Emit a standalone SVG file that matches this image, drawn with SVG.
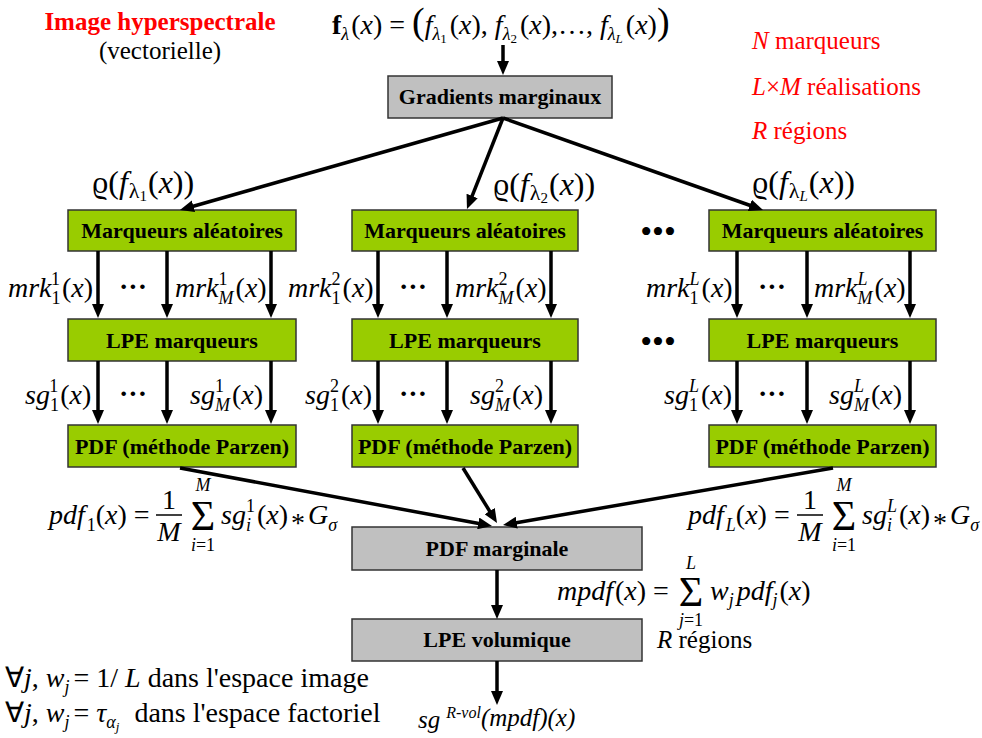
<svg xmlns="http://www.w3.org/2000/svg" width="982" height="738" viewBox="0 0 982 738" font-family="'Liberation Serif', 'Times New Roman', Times, serif">
<style>
text{font-family:'Liberation Serif','Times New Roman',Times,serif;fill:#000}
.red{fill:#ff0000}
.lbl{font-weight:bold;font-size:22px;text-anchor:middle}
.m{font-style:italic;font-size:28px}
.n{font-style:normal}
.s{font-size:18px}
.ss{font-size:13px}
.big{font-size:38px}
.g{fill:#99cc00;stroke:#333;stroke-width:1.5}
.gr{fill:#c0c0c0;stroke:#333;stroke-width:1.5}
.dots{font-size:28px;font-weight:bold;text-anchor:middle}
.bul{font-size:34px;text-anchor:middle}
.sig{font-size:42px;text-anchor:middle}
.c line{stroke:#000;stroke-width:3.5;marker-end:url(#ah)}
</style>
<defs>
<marker id="ah" viewBox="0 0 14 12" markerWidth="14" markerHeight="12" refX="2" refY="6" orient="auto" markerUnits="userSpaceOnUse">
<path d="M0,0 L14,6 L0,12 z" fill="#000"/>
</marker>
</defs>
<rect width="982" height="738" fill="#fff"/>

<g id="title">
<text class="red" x="160" y="30" style="font-weight:bold;font-size:25px;text-anchor:middle">Image hyperspectrale</text>
<text x="160" y="59" style="font-size:25px;text-anchor:middle">(vectorielle)</text>
</g>

<g id="input">
<text class="m" x="332" y="34"><tspan class="n" font-weight="bold">f</tspan><tspan class="s" dy="6">λ</tspan><tspan class="n" dx="2" dy="-6">(</tspan>x<tspan class="n">) = </tspan><tspan class="n big">(</tspan>f<tspan class="s" dy="6">λ</tspan><tspan class="ss n" dy="3">1</tspan><tspan class="n" dx="3" dy="-9">(</tspan>x<tspan class="n">), </tspan>f<tspan class="s" dy="6">λ</tspan><tspan class="ss n" dy="3">2</tspan><tspan class="n" dx="3" dy="-9">(</tspan>x<tspan class="n">),…, </tspan>f<tspan class="s" dy="6">λ</tspan><tspan class="ss" dy="3">L</tspan><tspan class="n" dx="3" dy="-9">(</tspan>x<tspan class="n">)</tspan><tspan class="n big">)</tspan></text>
</g>

<g id="notes">
<text class="red" x="752" y="49" style="font-size:25px"><tspan font-style="italic">N</tspan> marqueurs</text>
<text class="red" x="752" y="95" style="font-size:25px"><tspan font-style="italic">L</tspan>×<tspan font-style="italic">M</tspan> réalisations</text>
<text class="red" x="752" y="139" style="font-size:25px"><tspan font-style="italic">R</tspan> régions</text>
</g>

<g id="gradients">
<rect class="gr" x="388" y="76" width="224" height="42"/>
<text class="lbl" x="500" y="104">Gradients marginaux</text>
</g>

<g id="rho-labels" style="font-size:32px">
<text x="92" y="193">ϱ(<tspan font-style="italic">f</tspan><tspan font-size="22" dx="1" dy="5">λ</tspan><tspan font-size="15" dy="3">1</tspan><tspan dx="1" dy="-8">(</tspan><tspan font-style="italic">x</tspan>))</text>
<text x="493" y="195">ϱ(<tspan font-style="italic">f</tspan><tspan font-size="22" dx="1" dy="5">λ</tspan><tspan font-size="15" dy="3">2</tspan><tspan dx="1" dy="-8">(</tspan><tspan font-style="italic">x</tspan>))</text>
<text x="752" y="193">ϱ(<tspan font-style="italic">f</tspan><tspan font-size="22" dx="1" dy="5">λ</tspan><tspan font-size="15" dy="3" font-style="italic">L</tspan><tspan dx="1" dy="-8">(</tspan><tspan font-style="italic">x</tspan>))</text>
</g>

<g id="marq1"><rect class="g" x="68" y="210" width="228" height="41"/><text class="lbl" x="182" y="238">Marqueurs aléatoires</text></g>
<g id="marq2"><rect class="g" x="352" y="210" width="226" height="41"/><text class="lbl" x="465" y="238">Marqueurs aléatoires</text></g>
<g id="marqL"><rect class="g" x="709" y="210" width="227" height="41"/><text class="lbl" x="822.5" y="238">Marqueurs aléatoires</text></g>

<g id="lpe1"><rect class="g" x="68" y="319" width="228" height="42"/><text class="lbl" x="182" y="348">LPE marqueurs</text></g>
<g id="lpe2"><rect class="g" x="352" y="319" width="226" height="42"/><text class="lbl" x="465" y="348">LPE marqueurs</text></g>
<g id="lpeL"><rect class="g" x="709" y="319" width="227" height="42"/><text class="lbl" x="822.5" y="348">LPE marqueurs</text></g>

<g id="pdf1"><rect class="g" x="68" y="425" width="228" height="42"/><text class="lbl" x="182" y="454">PDF (méthode Parzen)</text></g>
<g id="pdf2"><rect class="g" x="352" y="425" width="226" height="42"/><text class="lbl" x="465" y="454">PDF (méthode Parzen)</text></g>
<g id="pdfL"><rect class="g" x="709" y="425" width="227" height="42"/><text class="lbl" x="822.5" y="454">PDF (méthode Parzen)</text></g>

<g id="ellipses">
<text class="bul" x="658" y="243">•••</text>
<text class="bul" x="658" y="353">•••</text>
</g>

<g id="mrk-labels">
<text class="m" x="8" y="297">mrk<tspan class="s n" dy="7">1</tspan><tspan class="s n" dx="-9" dy="-19">1</tspan><tspan class="n" dx="2" dy="12">(</tspan>x<tspan class="n">)</tspan></text>
<text class="dots" x="133" y="296">···</text>
<text class="m" x="175" y="297">mrk<tspan class="s" dy="7">M</tspan><tspan class="s n" dx="-15" dy="-19">1</tspan><tspan class="n" dx="8" dy="12">(</tspan>x<tspan class="n">)</tspan></text>
<text class="m" x="288" y="297">mrk<tspan class="s n" dy="7">1</tspan><tspan class="s n" dx="-9" dy="-19">2</tspan><tspan class="n" dx="2" dy="12">(</tspan>x<tspan class="n">)</tspan></text>
<text class="dots" x="413" y="296">···</text>
<text class="m" x="455" y="297">mrk<tspan class="s" dy="7">M</tspan><tspan class="s n" dx="-15" dy="-19">2</tspan><tspan class="n" dx="8" dy="12">(</tspan>x<tspan class="n">)</tspan></text>
<text class="m" x="646" y="297">mrk<tspan class="s n" dy="7">1</tspan><tspan class="s" dx="-9" dy="-19">L</tspan><tspan class="n" dx="2" dy="12">(</tspan>x<tspan class="n">)</tspan></text>
<text class="dots" x="772" y="296">···</text>
<text class="m" x="814" y="297">mrk<tspan class="s" dy="7">M</tspan><tspan class="s" dx="-15" dy="-19">L</tspan><tspan class="n" dx="7" dy="12">(</tspan>x<tspan class="n">)</tspan></text>
</g>

<g id="sg-labels">
<text class="m" x="25" y="404">sg<tspan class="s n" dy="7">1</tspan><tspan class="s n" dx="-9" dy="-19">1</tspan><tspan class="n" dx="2" dy="12">(</tspan>x<tspan class="n">)</tspan></text>
<text class="dots" x="133" y="403">···</text>
<text class="m" x="190" y="404">sg<tspan class="s" dy="7">M</tspan><tspan class="s n" dx="-15" dy="-19">1</tspan><tspan class="n" dx="8" dy="12">(</tspan>x<tspan class="n">)</tspan></text>
<text class="m" x="305" y="404">sg<tspan class="s n" dy="7">1</tspan><tspan class="s n" dx="-9" dy="-19">2</tspan><tspan class="n" dx="2" dy="12">(</tspan>x<tspan class="n">)</tspan></text>
<text class="dots" x="413" y="403">···</text>
<text class="m" x="470" y="404">sg<tspan class="s" dy="7">M</tspan><tspan class="s n" dx="-15" dy="-19">2</tspan><tspan class="n" dx="8" dy="12">(</tspan>x<tspan class="n">)</tspan></text>
<text class="m" x="664" y="404">sg<tspan class="s n" dy="7">1</tspan><tspan class="s" dx="-9" dy="-19">L</tspan><tspan class="n" dx="2" dy="12">(</tspan>x<tspan class="n">)</tspan></text>
<text class="dots" x="772" y="403">···</text>
<text class="m" x="829" y="404">sg<tspan class="s" dy="7">M</tspan><tspan class="s" dx="-15" dy="-19">L</tspan><tspan class="n" dx="7" dy="12">(</tspan>x<tspan class="n">)</tspan></text>
</g>

<g id="formula-pdf1">
<text class="m" x="49" y="524">pdf<tspan class="s n" dx="2" dy="7">1</tspan><tspan class="n" dy="-7">(</tspan>x<tspan class="n">) =</tspan></text>
<text class="m n" x="169" y="509" text-anchor="middle">1</text>
<line x1="156" y1="515" x2="182" y2="515" stroke="#000" stroke-width="1.5"/>
<text class="m" x="169" y="541" text-anchor="middle">M</text>
<text class="sig" x="203" y="530">Σ</text>
<text class="m s" x="203" y="491" text-anchor="middle">M</text>
<text class="m s" x="203" y="551" text-anchor="middle">i<tspan class="n">=1</tspan></text>
<text class="m" x="221" y="524">sg<tspan class="s" dy="7">i</tspan><tspan class="s n" dx="-5" dy="-19">1</tspan><tspan class="n" dx="2" dy="12">(</tspan>x<tspan class="n">)</tspan><tspan class="n" dx="3" dy="8">*</tspan><tspan dx="3" dy="-8">G</tspan><tspan class="s" dy="7">σ</tspan></text>
</g>

<g id="formula-pdfL">
<text class="m" x="688" y="524">pdf<tspan class="s" dx="2" dy="7">L</tspan><tspan class="n" dy="-7">(</tspan>x<tspan class="n">) =</tspan></text>
<text class="m n" x="810" y="509" text-anchor="middle">1</text>
<line x1="797" y1="515" x2="823" y2="515" stroke="#000" stroke-width="1.5"/>
<text class="m" x="810" y="541" text-anchor="middle">M</text>
<text class="sig" x="844" y="530">Σ</text>
<text class="m s" x="844" y="491" text-anchor="middle">M</text>
<text class="m s" x="844" y="551" text-anchor="middle">i<tspan class="n">=1</tspan></text>
<text class="m" x="862" y="524">sg<tspan class="s" dy="7">i</tspan><tspan class="s" dx="-5" dy="-19">L</tspan><tspan class="n" dx="2" dy="12">(</tspan>x<tspan class="n">)</tspan><tspan class="n" dx="3" dy="8">*</tspan><tspan dx="3" dy="-8">G</tspan><tspan class="s" dy="7">σ</tspan></text>
</g>

<g id="pdf-marginale">
<rect class="gr" x="352" y="527" width="290" height="43"/>
<text class="lbl" x="497" y="556">PDF marginale</text>
</g>

<g id="formula-mpdf">
<text class="m" x="557" y="600">mpdf<tspan class="n" dx="2">(</tspan>x<tspan class="n">) =</tspan></text>
<text class="sig" x="691" y="606">Σ</text>
<text class="m s" x="691" y="569" text-anchor="middle">L</text>
<text class="m s" x="691" y="626" text-anchor="middle">j<tspan class="n">=1</tspan></text>
<text class="m" x="710" y="600">w<tspan class="s" dy="6">j</tspan><tspan dx="3" dy="-6">pdf</tspan><tspan class="s" dy="6">j</tspan><tspan class="n" dx="2" dy="-6">(</tspan>x<tspan class="n">)</tspan></text>
</g>

<g id="lpe-volumique">
<rect class="gr" x="352" y="619" width="290" height="42"/>
<text class="lbl" x="497" y="647">LPE volumique</text>
</g>

<g id="regions-note">
<text x="657" y="648" style="font-size:25px"><tspan font-style="italic">R</tspan> régions</text>
</g>

<g id="weights">
<text class="m" x="5" y="687" style="font-size:28px"><tspan class="n">∀</tspan>j<tspan class="n">,  </tspan>w<tspan class="s" dy="6">j</tspan><tspan class="n" dx="4" dy="-6">= 1/ </tspan>L<tspan class="n">  dans l'espace image</tspan></text>
<text class="m" x="5" y="722" style="font-size:28px"><tspan class="n">∀</tspan>j<tspan class="n">,  </tspan>w<tspan class="s" dy="6">j</tspan><tspan class="n" dx="4" dy="-6">= </tspan>τ<tspan class="s" dy="6">α</tspan><tspan class="ss" dy="3">j</tspan><tspan class="n" dx="8" dy="-9">  dans l'espace factoriel</tspan></text>
</g>

<g id="output">
<text class="m" x="418" y="728" style="font-size:25px">sg<tspan style="font-size:16px" dx="6" dy="-10">R-vol</tspan><tspan dy="8">(mpdf)(x)</tspan></text>
</g>

<g id="connectors" class="c">
<line x1="503" y1="45" x2="503" y2="63"/>
<line x1="503" y1="118" x2="191.5" y2="206.7"/>
<line x1="503" y1="118" x2="471.4" y2="197.8"/>
<line x1="503" y1="118" x2="751.7" y2="206"/>
<line x1="98" y1="251" x2="98" y2="306"/>
<line x1="167" y1="251" x2="167" y2="306"/>
<line x1="271" y1="251" x2="271" y2="306"/>
<line x1="378" y1="251" x2="378" y2="306"/>
<line x1="447" y1="251" x2="447" y2="306"/>
<line x1="551" y1="251" x2="551" y2="306"/>
<line x1="737" y1="251" x2="737" y2="306"/>
<line x1="807" y1="251" x2="807" y2="306"/>
<line x1="910" y1="251" x2="910" y2="306"/>
<line x1="98" y1="361" x2="98" y2="412"/>
<line x1="167" y1="361" x2="167" y2="412"/>
<line x1="271" y1="361" x2="271" y2="412"/>
<line x1="378" y1="361" x2="378" y2="412"/>
<line x1="447" y1="361" x2="447" y2="412"/>
<line x1="551" y1="361" x2="551" y2="412"/>
<line x1="737" y1="361" x2="737" y2="412"/>
<line x1="807" y1="361" x2="807" y2="412"/>
<line x1="910" y1="361" x2="910" y2="412"/>
<line x1="180" y1="468" x2="480.2" y2="523.8"/>
<line x1="463" y1="468" x2="490.7" y2="512.8"/>
<line x1="833" y1="468" x2="514.8" y2="523"/>
<line x1="497" y1="570" x2="497" y2="607"/>
<line x1="497" y1="661" x2="497" y2="693"/>
</g>
</svg>
